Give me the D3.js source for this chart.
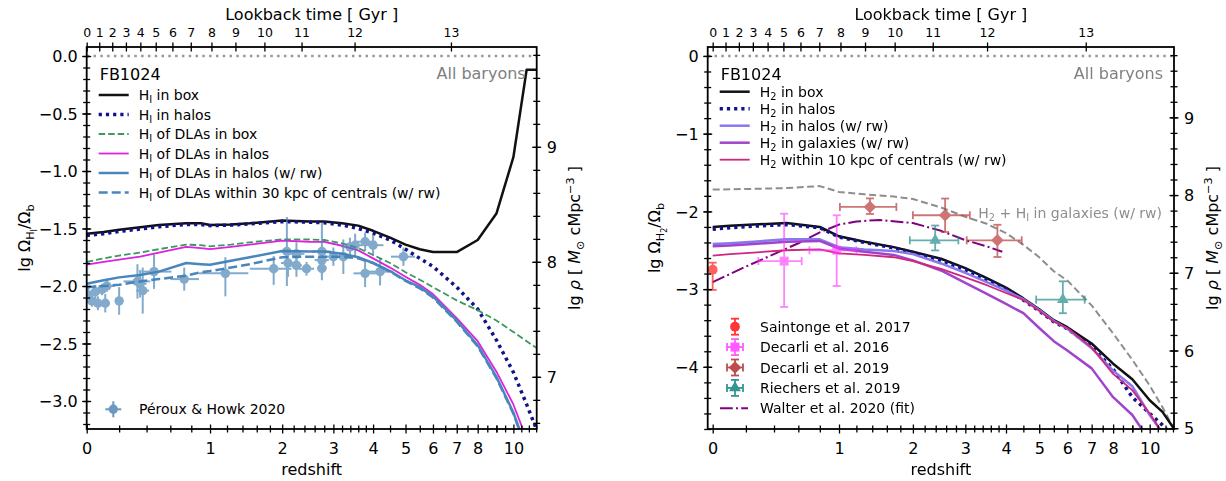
<!DOCTYPE html>
<html><head><meta charset="utf-8">
<script src="https://cdn.jsdelivr.net/npm/d3@7"></script>
<style>body{margin:0;background:#fff} svg{font-family:"DejaVu Sans",sans-serif}</style>
</head><body><svg id="c" width="1226" height="481"></svg>
<script>
// ---------------- DATA ----------------
// redshift axis ticks
const zTickVals = [0,1,2,3,4,5,6,7,8,10];
const zTickLabels = ["0","1","2","3","4","5","6","7","8","10"];
const lookbackTicks = [0,1,2,3,4,5,6,7,8,9,10,11,12,13];
// left panel (HI)
const zL = [0,0.1,0.2,0.35,0.5,0.75,0.9,1.0,1.25,1.5,2.0,2.5,2.8,3.2,3.6,4.0,4.5,5.0,5.5,6.0,7.0,8.0,9.0,10.0,10.85,11.54];
const hiBox      = [-1.545,-1.53,-1.51,-1.49,-1.47,-1.455,-1.455,-1.47,-1.465,-1.455,-1.43,-1.44,-1.44,-1.455,-1.475,-1.52,-1.58,-1.64,-1.68,-1.705,-1.705,-1.60,-1.37,-0.88,-0.12,-0.12];
const hiHalos    = [-1.56,-1.545,-1.525,-1.505,-1.485,-1.465,-1.465,-1.475,-1.47,-1.46,-1.44,-1.445,-1.45,-1.47,-1.50,-1.54,-1.60,-1.68,-1.76,-1.83,-2.01,-2.20,-2.47,-2.75,-3.03,-3.25];
const dlaBox     = [-1.79,-1.76,-1.735,-1.71,-1.68,-1.64,-1.645,-1.655,-1.64,-1.62,-1.595,-1.595,-1.60,-1.63,-1.67,-1.73,-1.80,-1.88,-1.945,-2.01,-2.125,-2.21,-2.30,-2.40,-2.48,-2.54];
const dlaHalos   = [-1.815,-1.79,-1.77,-1.745,-1.71,-1.66,-1.67,-1.68,-1.66,-1.64,-1.605,-1.615,-1.617,-1.65,-1.69,-1.76,-1.84,-1.92,-1.99,-2.07,-2.28,-2.48,-2.745,-3.03,-3.33,-3.6];
const dlaHalosRw = [-1.98,-1.95,-1.925,-1.905,-1.875,-1.80,-1.81,-1.815,-1.78,-1.75,-1.695,-1.70,-1.70,-1.72,-1.75,-1.80,-1.87,-1.95,-2.01,-2.09,-2.30,-2.515,-2.79,-3.10,-3.42,-3.7];
const dla30kpcRw = [-2.01,-2.0,-1.99,-1.96,-1.94,-1.91,-1.88,-1.87,-1.84,-1.81,-1.75,-1.745,-1.745,-1.745,-1.76,-1.80,-1.875,-1.955,-2.02,-2.10,-2.31,-2.525,-2.80,-3.11,-3.43,-3.71];
// Peroux & Howk 2020: z, value, -dz, +dz, -dv, +dv
const phZ   = [0.01,0.03,0.05,0.065,0.09,0.11,0.12,0.2,0.33,0.35,0.37,0.46,0.73,1.18,1.86,2.08,2.1,2.25,2.25,2.44,2.75,2.75,2.75,3.0,3.23,3.39,3.52,3.78,3.78,4.0,4.2,4.93];
const phV   = [-2.08,-2.13,-2.05,-2.15,-2.03,-2.15,-2.0,-2.13,-1.96,-1.98,-2.04,-1.875,-1.94,-1.89,-1.85,-1.70,-1.80,-1.72,-1.82,-1.85,-1.70,-1.775,-1.846,-1.745,-1.745,-1.66,-1.645,-1.615,-1.89,-1.645,-1.875,-1.745];
const phZlo = [0,0.02,0.03,0,0.03,0.03,0.05,0,0.1,0.05,0.05,0.1,0.13,0.3,0.36,0.1,0.12,0.15,0.1,0.15,0.2,0.15,0.1,0.2,0.2,0.2,0.2,0.3,0.3,0.2,0.4,0.4];
const phZhi = [0,0.02,0.03,0,0.03,0.03,0.05,0,0.1,0.05,0.05,0.15,0.15,0.3,0.3,0.1,0.12,0.15,0.1,0.15,0.2,0.15,0.1,0.2,0.2,0.2,0.2,0.3,0.3,0.3,0.4,0.4];
const phVlo = [0.07,0.05,0.06,0.06,0.05,0.08,0.05,0.12,0.15,0.12,0.2,0.15,0.1,0.2,0.14,0.3,0.12,0.1,0.1,0.06,0.25,0.05,0.06,0.08,0.15,0.08,0.1,0.08,0.12,0.09,0.12,0.08];
const phVhi = [0.07,0.05,0.06,0.06,0.05,0.08,0.05,0.12,0.15,0.12,0.2,0.15,0.1,0.14,0.11,0.3,0.12,0.1,0.1,0.06,0.25,0.05,0.06,0.08,0.15,0.08,0.1,0.08,0.12,0.09,0.12,0.08];
// right panel (H2)
const zR = [0,0.1,0.25,0.5,0.8,1.0,1.3,1.7,2.0,2.5,3.0,3.5,4.0,4.5,5.0,5.5,6.0,7.0,8.0,9.0,10.0,10.8,11.55];
const h2Box      = [-2.20,-2.185,-2.17,-2.15,-2.20,-2.32,-2.39,-2.46,-2.52,-2.61,-2.73,-2.86,-2.98,-3.12,-3.26,-3.40,-3.49,-3.70,-3.96,-4.16,-4.43,-4.58,-4.79];
const h2Halos    = [-2.23,-2.21,-2.19,-2.17,-2.21,-2.33,-2.40,-2.47,-2.53,-2.63,-2.75,-2.88,-3.00,-3.14,-3.28,-3.42,-3.51,-3.74,-4.03,-4.39,-4.60,-4.75,-4.9];
const h2HalosRw  = [-2.42,-2.41,-2.39,-2.36,-2.36,-2.46,-2.49,-2.51,-2.55,-2.67,-2.79,-2.91,-3.02,-3.13,-3.27,-3.41,-3.51,-3.76,-4.05,-4.25,-4.62,-4.85,-5.0];
const h2GalRw    = [-2.45,-2.44,-2.42,-2.39,-2.38,-2.48,-2.52,-2.56,-2.63,-2.76,-2.92,-3.06,-3.19,-3.31,-3.50,-3.67,-3.79,-4.02,-4.39,-4.62,-4.95,-5.2,-5.4];
const h2Cen10Rw  = [-2.57,-2.55,-2.53,-2.50,-2.49,-2.54,-2.56,-2.59,-2.64,-2.74,-2.85,-2.95,-3.05,-3.14,-3.28,-3.42,-3.50,-3.75,-4.09,-4.30,-4.60,-4.85,-5.0];
const h2hiGalRw  = [-1.72,-1.715,-1.71,-1.70,-1.675,-1.75,-1.78,-1.81,-1.84,-1.95,-2.07,-2.16,-2.28,-2.43,-2.59,-2.77,-2.89,-3.21,-3.57,-3.91,-4.24,-4.52,-4.79];
const zWalter = [0,0.2,0.4,0.6,0.8,1.0,1.2,1.5,2.0,2.5,3.0,3.5,3.9];
const walterFit = [-2.91,-2.71,-2.55,-2.41,-2.27,-2.17,-2.13,-2.11,-2.15,-2.25,-2.37,-2.45,-2.52];
// observations: z, value, -dz, +dz, -dv, +dv
const saintonge = {z:[0], v:[-2.75], zlo:[0], zhi:[0], vlo:[0.26], vhi:[0.09]};
const decarli16 = {z:[0.48,0.975], v:[-2.64,-2.50], zlo:[0.195,0.275], zhi:[0.15,0.225], vlo:[0.59,0.46], vhi:[0.61,0.45]};
const decarli19 = {z:[1.37,2.58,3.77], v:[-1.943,-2.05,-2.372], zlo:[0.36,0.58,0.74], zhi:[0.37,0.52,0.68], vlo:[0.09,0.215,0.215], vhi:[0.11,0.215,0.2]};
const riechers19 = {z:[2.39,5.83], v:[-2.372,-3.135], zlo:[0.44,0.93], zhi:[0.46,0.87], vlo:[0.13,0.175], vhi:[0.19,0.235]};
// conversion lg(Omega/Omega_b) -> lg rho
const rhoOffset = 9.79;

// ---------------- DRAWING ----------------
const svg = d3.select('#c');
const FS = 16;

function rich(sel, parts, fs) {
  let cur = 0;
  parts.forEach(p => {
    const [t, type] = typeof p === 'string' ? [p, ''] : p;
    let shift = 0, size = fs, style = null;
    if (type === 'sub') { shift = 0.22 * fs; size = 0.7 * fs; }
    if (type === 'subsub') { shift = 0.42 * fs; size = 0.5 * fs; }
    if (type === 'sup') { shift = -0.4 * fs; size = 0.7 * fs; }
    if (type === 'it') style = 'italic';
    const ts = sel.append('tspan').attr('dy', shift - cur).attr('font-size', size).text(t);
    if (style) ts.attr('font-style', style);
    cur = shift;
  });
  return sel;
}

// cosmology for lookback time axis (Planck15)
const H0 = 67.74, Om = 0.3089;
function lookback(z) {
  const n = 400, h = z / n; let s = 0;
  const f = zz => 1 / ((1 + zz) * Math.sqrt(Om * Math.pow(1 + zz, 3) + 1 - Om));
  for (let i = 0; i <= n; i++) { const w = (i === 0 || i === n) ? 1 : (i % 2 ? 4 : 2); s += w * f(i * h); }
  return s * h / 3 * 977.79 / H0;
}
function zOfT(t) { let lo = 0, hi = 40; for (let k = 0; k < 60; k++) { const m = (lo + hi) / 2; if (lookback(m) < t) lo = m; else hi = m; } return (lo + hi) / 2; }

function panel(cfg) {
  const g = svg.append('g');
  const x = d3.scaleLog().domain(cfg.xDom).range([cfg.x0, cfg.x1]);
  const X = z => x(1 + z);
  const y = d3.scaleLinear().domain(cfg.yDom).range([cfg.y1, cfg.y0]);
  const yr = d3.scaleLinear().domain([cfg.yDom[0] + rhoOffset, cfg.yDom[1] + rhoOffset]).range([cfg.y1, cfg.y0]);
  const clipId = 'clip' + cfg.id;
  svg.append('clipPath').attr('id', clipId).append('rect')
    .attr('x', cfg.x0).attr('y', cfg.y0).attr('width', cfg.x1 - cfg.x0).attr('height', cfg.y1 - cfg.y0);
  const plot = g.append('g').attr('clip-path', `url(#${clipId})`);

  // zero line (all baryons)
  plot.append('line').attr('x1', cfg.x0).attr('x2', cfg.x1).attr('y1', y(0)).attr('y2', y(0))
    .attr('stroke', '#999').attr('stroke-width', 2.5).attr('stroke-dasharray', '2.5,4.3');

  const line = d3.line().x(d => X(d[0])).y(d => y(d[1]));
  function drawSeries(zs, vs, st) {
    plot.append('path').datum(zs.map((z, i) => [z, vs[i]])).attr('d', line)
      .attr('fill', 'none').attr('stroke', st.c).attr('stroke-width', st.w)
      .attr('stroke-dasharray', st.d || null).attr('stroke-linejoin', 'round');
  }
  (cfg.extra || []).forEach(s => drawSeries(s.z, s.v, s.st));
  cfg.series.forEach(s => drawSeries(s.z, s.v, s.st));

  // observations
  function drawObs(o, st) {
    const og = plot.append('g').attr('opacity', st.op || 0.6);
    o.z.forEach((z, i) => {
      const cx = X(z), cy = y(o.v[i]);
      const xl = X(z - o.zlo[i]), xh = X(z + o.zhi[i]);
      const yl = y(o.v[i] - o.vlo[i]), yh = y(o.v[i] + o.vhi[i]);
      og.append('line').attr('x1', xl).attr('x2', xh).attr('y1', cy).attr('y2', cy).attr('stroke', st.c).attr('stroke-width', st.ew);
      og.append('line').attr('x1', cx).attr('x2', cx).attr('y1', yl).attr('y2', yh).attr('stroke', st.c).attr('stroke-width', st.ew);
      og.append('path').attr('d', d3.symbol().type(st.sym).size(st.size)())
        .attr('transform', `translate(${cx},${cy}) rotate(${st.rot || 0})`).attr('fill', st.c);
    });
    return og;
  }
  cfg.obs.forEach(o => drawObs(o.d, o.st));

  // axes
  const tk = 'black';
  function fixTicks(ax, horiz, len) {
    ax.select('.domain').remove();
    ax.selectAll('.tick line').attr('stroke', tk).attr('stroke-width', 1.3);
    if (horiz) ax.selectAll('.tick line').attr('y1', -len).attr('y2', len);
    else ax.selectAll('.tick line').attr('x1', -len).attr('x2', len);
  }
  // bottom
  const minorZ = d3.range(0.2, 4.0, 0.2).concat(d3.range(4.5, 11.6, 0.5)).concat([9]).filter(z => !zTickVals.includes(+z.toFixed(2)));
  const bMin = g.append('g').attr('transform', `translate(0,${cfg.y1})`)
    .call(d3.axisBottom(x).tickValues(minorZ.map(z => 1 + z)).tickFormat('').tickSizeOuter(0));
  fixTicks(bMin, true, 3.5);
  const bMaj = g.append('g').attr('transform', `translate(0,${cfg.y1})`)
    .call(d3.axisBottom(x).tickValues(zTickVals.map(z => 1 + z)).tickFormat((d, i) => zTickLabels[i]).tickSizeOuter(0));
  fixTicks(bMaj, true, 4.5);
  bMaj.selectAll('text').attr('y', 25).attr('dy', null).attr('font-size', FS).attr('font-family', 'DejaVu Sans').attr('fill', '#000');
  // top (lookback time)
  const tMaj = g.append('g').attr('transform', `translate(0,${cfg.y0})`)
    .call(d3.axisTop(x).tickValues(lookbackTicks.map(t => 1 + zOfT(t))).tickFormat((d, i) => String(lookbackTicks[i])).tickSizeOuter(0));
  fixTicks(tMaj, true, 4.5);
  tMaj.selectAll('text').attr('y', -10.5).attr('dy', null).attr('font-size', 12.5).attr('font-family', 'DejaVu Sans').attr('fill', '#000');
  // left
  const lMin = g.append('g').attr('transform', `translate(${cfg.x0},0)`)
    .call(d3.axisLeft(y).tickValues(cfg.yMinor).tickFormat('').tickSizeOuter(0));
  fixTicks(lMin, false, 3.5);
  const lMaj = g.append('g').attr('transform', `translate(${cfg.x0},0)`)
    .call(d3.axisLeft(y).tickValues(cfg.yTicks).tickFormat((d, i) => cfg.yLabels[i]).tickSizeOuter(0));
  fixTicks(lMaj, false, 4.5);
  lMaj.selectAll('text').attr('x', -9).attr('dy', '0.36em').attr('font-size', FS).attr('font-family', 'DejaVu Sans').attr('fill', '#000');
  // right (rho)
  const rMin = g.append('g').attr('transform', `translate(${cfg.x1},0)`)
    .call(d3.axisRight(yr).tickValues(d3.range(Math.ceil((cfg.yDom[0] + rhoOffset) * 5) / 5, cfg.yDom[1] + rhoOffset, 0.2)).tickFormat('').tickSizeOuter(0));
  fixTicks(rMin, false, 3.5);
  const rMaj = g.append('g').attr('transform', `translate(${cfg.x1},0)`)
    .call(d3.axisRight(yr).tickValues(cfg.rTicks).tickFormat(d3.format('d')).tickSizeOuter(0));
  fixTicks(rMaj, false, 4.5);
  rMaj.selectAll('text').attr('x', 10).attr('dy', '0.36em').attr('font-size', FS).attr('font-family', 'DejaVu Sans').attr('fill', '#000');

  // frame
  g.append('rect').attr('x', cfg.x0).attr('y', cfg.y0).attr('width', cfg.x1 - cfg.x0).attr('height', cfg.y1 - cfg.y0)
    .attr('fill', 'none').attr('stroke', '#000').attr('stroke-width', 1.8);

  const cx = (cfg.x0 + cfg.x1) / 2;
  g.append('text').attr('x', cx).attr('y', 475).attr('text-anchor', 'middle').attr('font-size', FS).text('redshift');
  g.append('text').attr('x', cx).attr('y', 20).attr('text-anchor', 'middle').attr('font-size', FS).text('Lookback time [ Gyr ]');
  const ymid = (cfg.y0 + cfg.y1) / 2;
  rich(g.append('text').attr('transform', `translate(${cfg.yLabX},${ymid}) rotate(-90)`).attr('text-anchor', 'middle'), cfg.yLabel, FS);
  rich(g.append('text').attr('transform', `translate(${cfg.rLabX},${ymid}) rotate(-90)`).attr('text-anchor', 'middle'),
    ['lg ', ['ρ', 'it'], ' [ ', ['M', 'it'], ['⊙', 'sub'], '  cMpc', ['−3', 'sup'], ' ]'], FS);

  g.append('text').attr('x', cfg.x0 + 13).attr('y', 80).attr('font-size', FS).text('FB1024');
  g.append('text').attr('x', cfg.x1 - 11).attr('y', 79).attr('font-size', FS).attr('text-anchor', 'end').attr('fill', '#808080').text('All baryons');

  // legend for series
  cfg.series.forEach((s, i) => {
    const ly = cfg.legY0 + i * cfg.legDy;
    g.append('line').attr('x1', cfg.x0 + 12).attr('x2', cfg.x0 + 42).attr('y1', ly).attr('y2', ly)
      .attr('stroke', s.st.c).attr('stroke-width', s.st.w).attr('stroke-dasharray', s.st.d || null);
    rich(g.append('text').attr('x', cfg.x0 + 52).attr('y', ly + 5).attr('font-size', 14), s.label, 14);
  });
  return { g, plot, x, X, y };
}

const blueDots = { c: '#12128a', w: 3.5, d: '3.2,4' };

const L = panel({
  id: 'L', x0: 86.7, x1: 536.7, y0: 47, y1: 429, xDom: [1, 12.54], yDom: [-3.2435, 0.0783],
  yTicks: [0, -0.5, -1, -1.5, -2, -2.5, -3], yLabels: ['0.0', '−0.5', '−1.0', '−1.5', '−2.0', '−2.5', '−3.0'],
  yMinor: d3.range(-32, 1, 1).map(v => v / 10), rTicks: [7, 8, 9],
  yLabX: 30, rLabX: 580,
  yLabel: ['lg Ω', ['H', 'sub'], ['I', 'subsub'], ['/Ω', ''], ['b', 'sub']],
  legY0: 95, legDy: 19.5,
  series: [
    { z: zL, v: hiBox, st: { c: '#111', w: 2.5 }, label: ['H', ['I', 'sub'], ' in box'] },
    { z: zL, v: hiHalos, st: blueDots, label: ['H', ['I', 'sub'], ' in halos'] },
    { z: zL, v: dlaBox, st: { c: '#3a9a5e', w: 1.8, d: '6.5,3' }, label: ['H', ['I', 'sub'], ' of DLAs in box'] },
    { z: zL, v: dlaHalos, st: { c: '#dd22dd', w: 1.8 }, label: ['H', ['I', 'sub'], ' of DLAs in halos'] },
    { z: zL, v: dlaHalosRw, st: { c: '#4a86bc', w: 2.5 }, label: ['H', ['I', 'sub'], ' of DLAs in halos (w/ rw)'] },
    { z: zL, v: dla30kpcRw, st: { c: '#4a86bc', w: 2.5, d: '9,4' }, label: ['H', ['I', 'sub'], ' of DLAs within 30 kpc of centrals (w/ rw)'] },
  ],
  obs: [
    { d: { z: phZ, v: phV, zlo: phZlo, zhi: phZhi, vlo: phVlo, vhi: phVhi }, st: { c: '#4682b4', ew: 2, sym: d3.symbolCircle, size: 70, op: 0.68 } },
  ],
});

const R = panel({
  id: 'R', x0: 707.7, x1: 1174, y0: 47, y1: 429, xDom: [0.973, 12.57], yDom: [-4.80, 0.115],
  yTicks: [0, -1, -2, -3, -4], yLabels: ['0', '−1', '−2', '−3', '−4'],
  yMinor: d3.range(-24, 1, 1).map(v => v / 5), rTicks: [5, 6, 7, 8, 9],
  yLabX: 660, rLabX: 1218,
  yLabel: ['lg Ω', ['H', 'sub'], ['2', 'subsub'], ['/Ω', ''], ['b', 'sub']],
  legY0: 91.7, legDy: 17,
  extra: [
    { z: zR, v: h2hiGalRw, st: { c: '#8e8e8e', w: 2, d: '7,3.5' } },
    { z: zWalter, v: walterFit, st: { c: '#800080', w: 2, d: '12.8,3.2,2,3.2' } },
  ],
  series: [
    { z: zR, v: h2Box, st: { c: '#111', w: 2.5 }, label: ['H', ['2', 'sub'], ' in box'] },
    { z: zR, v: h2Halos, st: blueDots, label: ['H', ['2', 'sub'], ' in halos'] },
    { z: zR, v: h2HalosRw, st: { c: '#8878ee', w: 2.5 }, label: ['H', ['2', 'sub'], ' in halos (w/ rw)'] },
    { z: zR, v: h2GalRw, st: { c: '#a044cc', w: 2.5 }, label: ['H', ['2', 'sub'], ' in galaxies (w/ rw)'] },
    { z: zR, v: h2Cen10Rw, st: { c: '#d0267e', w: 1.8 }, label: ['H', ['2', 'sub'], ' within 10 kpc of centrals (w/ rw)'] },
  ],
  obs: [],
});

// right panel observations and annotations
(function () {
  const { g, plot, X, y } = R;
  g.append('text').attr('x', 1162).attr('y', 218).attr('text-anchor', 'end').attr('fill', '#8e8e8e').attr('font-size', 14)
    .call(s => rich(s, ['H', ['2', 'sub'], ' + H', ['I', 'sub'], ' in galaxies (w/ rw)'], 14));

  const obsSets = [
    { d: saintonge, st: { c: '#ff2a2a', sym: d3.symbolCircle, size: 75, op: 0.75 }, label: 'Saintonge et al. 2017', vOnly: true },
    { d: decarli16, st: { c: '#ff30ff', sym: d3.symbolSquare, size: 80, op: 0.6 }, label: 'Decarli et al. 2016' },
    { d: decarli19, st: { c: '#b83a3a', sym: d3.symbolSquare, size: 80, rot: 45, op: 0.7 }, label: 'Decarli et al. 2019' },
    { d: riechers19, st: { c: '#1f8a8a', sym: d3.symbolTriangle, size: 60, op: 0.7 }, label: 'Riechers et al. 2019' },
  ];
  const cap = 4;
  function bars(gg, cx, cy, xl, xh, yl, yh, c) {
    const ln = (a, b, c2, d) => gg.append('line').attr('x1', a).attr('y1', b).attr('x2', c2).attr('y2', d).attr('stroke', c).attr('stroke-width', 1.8);
    if (xh - xl > 1) { ln(xl, cy, xh, cy); ln(xl, cy - cap, xl, cy + cap); ln(xh, cy - cap, xh, cy + cap); }
    ln(cx, yl, cx, yh); ln(cx - cap, yl, cx + cap, yl); ln(cx - cap, yh, cx + cap, yh);
  }
  const obsG = plot.append('g');
  obsSets.forEach((o, k) => {
    const og = obsG.append('g').attr('opacity', o.st.op);
    o.d.z.forEach((z, i) => {
      const cx = X(z), cy = y(o.d.v[i]);
      bars(og, cx, cy, X(z - o.d.zlo[i]), X(z + o.d.zhi[i]), y(o.d.v[i] - o.d.vlo[i]), y(o.d.v[i] + o.d.vhi[i]), o.st.c);
      og.append('path').attr('d', d3.symbol().type(o.st.sym).size(o.st.size)())
        .attr('transform', `translate(${cx},${cy}) rotate(${o.st.rot || 0})`).attr('fill', o.st.c);
    });
    // legend entry
    const ly = 326.7 + k * 20.4, lx = 735;
    const lg = g.append('g').attr('opacity', Math.min(1, o.st.op + 0.2));
    bars(lg, lx, ly, o.vOnly ? lx : lx - 8, o.vOnly ? lx : lx + 8, ly + 8, ly - 8, o.st.c);
    lg.append('path').attr('d', d3.symbol().type(o.st.sym).size(o.st.size)())
      .attr('transform', `translate(${lx},${ly}) rotate(${o.st.rot || 0})`).attr('fill', o.st.c);
    g.append('text').attr('x', 760).attr('y', ly + 5).attr('font-size', 14).text(o.label);
  });
  const wy = 326.7 + 4 * 20.4;
  g.append('line').attr('x1', 720).attr('x2', 748).attr('y1', wy).attr('y2', wy).attr('stroke', '#800080').attr('stroke-width', 2).attr('stroke-dasharray', '12.8,3.2,2,3.2');
  g.append('text').attr('x', 760).attr('y', wy + 5).attr('font-size', 14).text('Walter et al. 2020 (fit)');
})();

// left panel observation legend
(function () {
  const g = L.g, lx = 113.3, ly = 409.3;
  const lg = g.append('g').attr('opacity', 0.8);
  lg.append('line').attr('x1', lx - 8).attr('x2', lx + 8).attr('y1', ly).attr('y2', ly).attr('stroke', '#4682b4').attr('stroke-width', 2);
  lg.append('line').attr('x1', lx).attr('x2', lx).attr('y1', ly - 8).attr('y2', ly + 8).attr('stroke', '#4682b4').attr('stroke-width', 2);
  lg.append('circle').attr('cx', lx).attr('cy', ly).attr('r', 4.7).attr('fill', '#4682b4');
  g.append('text').attr('x', 139).attr('y', ly + 5).attr('font-size', 14).text('Péroux & Howk 2020');
})();
</script></body></html>
